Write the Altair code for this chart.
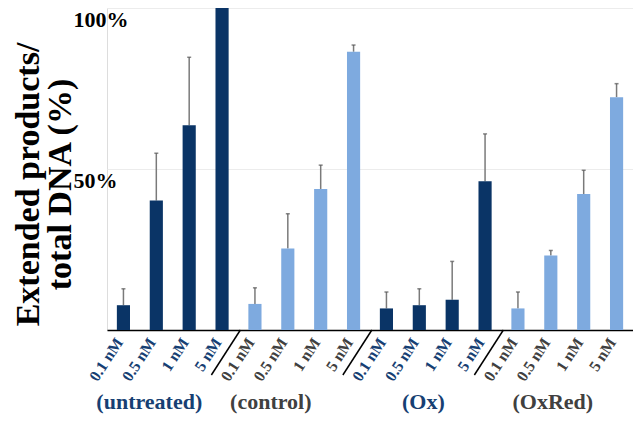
import altair as alt
import pandas as pd

groups = ["untreated", "control", "Ox", "OxRed"]
concs = ["0.1 nM", "0.5 nM", "1 nM", "5 nM"]
values = [7.7, 40.2, 63.6, 100.0,
          8.1, 25.3, 43.8, 86.4,
          6.7, 7.7, 9.4, 46.2,
          6.7, 23.1, 42.2, 72.3]
errors = [5.1, 14.7, 21.1, 0.0,
          5.0, 10.8, 7.4, 2.1,
          5.1, 5.1, 11.9, 14.7,
          5.1, 1.6, 7.4, 4.2]
shade = {"untreated": "dark", "control": "light", "Ox": "dark", "OxRed": "light"}

NAVY = "#0a3466"
LIGHT = "#7eaadf"
NAVY_TXT = "#173f73"
GRAY_TXT = "#404040"

rows = []
i = 0
for g in groups:
    for c in concs:
        rows.append({"key": f"{g}|{c}", "group": g, "conc": c,
                     "value": values[i], "err": errors[i],
                     "top": values[i] + errors[i], "shade": shade[g]})
        i += 1
df = pd.DataFrame(rows)
order = list(df["key"])

W, H = 526, 322
FONT = "Liberation Serif"

xenc = alt.X("key:N", sort=order, scale=alt.Scale(paddingInner=0.6, paddingOuter=0.3),
             axis=alt.Axis(title=None, labelAngle=-57, labelAlign="right", labelBaseline="middle",
                           labelFont=FONT, labelFontWeight="bold", labelFontSize=16,
                           labelPadding=9, labelOffset=-4, ticks=False, domainColor="#000000",
                           domainWidth=1.5,
                           labelExpr="split(datum.value, '|')[1]",
                           labelColor=alt.ExprRef(expr=f"(indexof(datum.value, 'untreated|') == 0 || indexof(datum.value, 'Ox|') == 0) ? '{NAVY_TXT}' : '{GRAY_TXT}'")))

yenc = alt.Y("value:Q", scale=alt.Scale(domain=[0, 100], nice=False),
             axis=alt.Axis(title=["Extended products/", "total DNA (%)"], values=[50, 100],
                           labelExpr="datum.value + '%'", labelFont=FONT, labelFontWeight="bold",
                           labelFontSize=22, labelAlign="left", labelBaseline="middle",
                           labelPadding=34, labelOffset=11, ticks=False, tickSize=0, domain=False,
                           grid=True, gridColor="#ececec", gridWidth=1,
                           titleFont=FONT, titleFontWeight="bold", titleFontSize=34,
                           titleLineHeight=32, titleAngle=270, titleAlign="center",
                           titleBaseline="top", titleX=-96, titleY=176, titleColor="#000000",
                           labelColor="#000000"))

base = alt.Chart(df)

bars = base.mark_bar().encode(
    x=xenc, y=yenc,
    color=alt.Color("shade:N", scale=alt.Scale(domain=["dark", "light"], range=[NAVY, LIGHT]), legend=None),
)

errs = base.transform_filter("datum.err > 0").mark_rule(color="#7a7a7a", strokeWidth=1.5).encode(
    x=alt.X("key:N", sort=order), y="value:Q", y2="top:Q")
caps = base.transform_filter("datum.err > 0").mark_tick(color="#555555", size=4, thickness=1.5).encode(
    x=alt.X("key:N", sort=order), y="top:Q")

sep_df = pd.DataFrame({"key": [f"{g}|{concs[0]}" for g in groups[1:]]})
seps = alt.Chart(sep_df).mark_rule(color="#000000", strokeWidth=1.5, xOffset=-8, x2Offset=-37).encode(
    x=alt.X("key:N", sort=order, bandPosition=0),
    x2=alt.X2("key:N", bandPosition=0),
    y=alt.value(H), y2=alt.value(H + 45))

glab_colors = [NAVY_TXT, GRAY_TXT, NAVY_TXT, GRAY_TXT]
glab_dx = [-7, -17, 4, 2]
glab_idx = [1, 5, 9, 13]
labels = []
for g, col, idx, dx in zip(groups, glab_colors, glab_idx, glab_dx):
    ldf = pd.DataFrame({"key": [order[idx]], "text": [f"({g})"]})
    labels.append(alt.Chart(ldf).mark_text(font=FONT, fontWeight="bold", fontSize=22, color=col,
                                           dx=dx, baseline="alphabetic").encode(
        x=alt.X("key:N", sort=order), y=alt.value(H + 79), text="text:N"))

chart = alt.layer(errs, caps, bars, seps, *labels).properties(
    width=W, height=H,
    autosize=alt.AutoSizeParams(type="none"),
    padding={"left": 99, "top": 0, "right": 0, "bottom": 84},
).configure_view(stroke=None).configure(background="#ffffff")

chart.save("out.html", embed_options={"renderer": "svg", "actions": False})
